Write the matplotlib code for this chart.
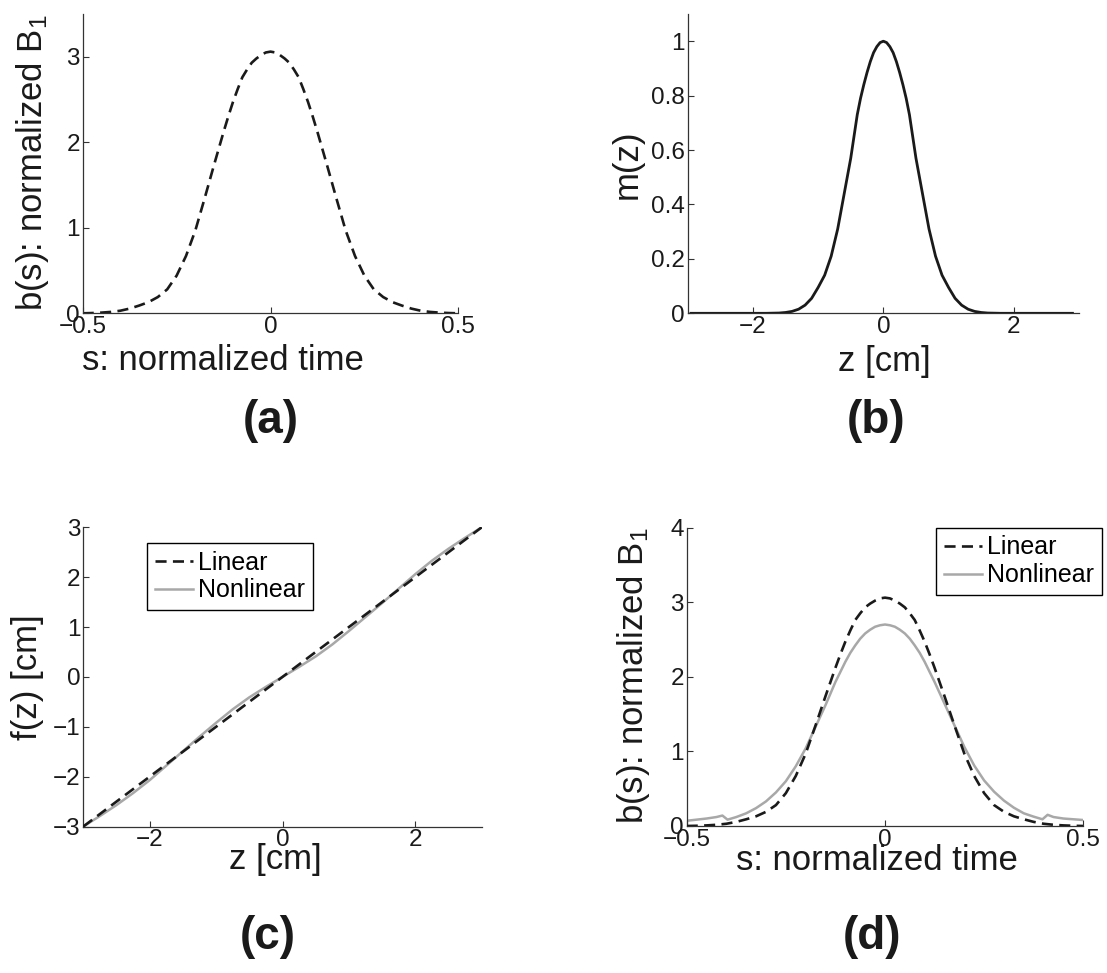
import numpy as np
import matplotlib as mpl
mpl.use('Agg')
import matplotlib.pyplot as plt

plt.rcParams['font.family'] = ['Liberation Sans', 'DejaVu Sans']
plt.rcParams['mathtext.fontset'] = 'custom'
plt.rcParams['mathtext.rm'] = 'Liberation Sans'
plt.rcParams['mathtext.it'] = 'Liberation Sans:italic'

W, H = 1107, 973

# (a) / (d): linear-design pulse b(s)
s_lin = [-0.5, -0.475, -0.45, -0.425, -0.4, -0.375, -0.35, -0.325, -0.3,
         -0.275, -0.25, -0.225, -0.2, -0.175, -0.15, -0.1375, -0.125,
         -0.1125, -0.1, -0.0875, -0.075, -0.0625, -0.05, -0.0375, -0.025,
         -0.0125, 0.0, 0.0125, 0.025, 0.0375, 0.05, 0.0625, 0.075, 0.0875,
         0.1, 0.1125, 0.125, 0.1375, 0.15, 0.175, 0.2, 0.225, 0.25, 0.275,
         0.3, 0.325, 0.35, 0.375, 0.4, 0.425, 0.45, 0.475, 0.5]
b_lin = [0.0, 0.003, 0.008, 0.016, 0.03, 0.055, 0.09, 0.13, 0.19, 0.28,
         0.44, 0.67, 0.97, 1.35, 1.74, 1.93, 2.12, 2.30, 2.47, 2.62, 2.76,
         2.85, 2.93, 2.98, 3.02, 3.05, 3.06, 3.05, 3.02, 2.98, 2.93, 2.85,
         2.76, 2.62, 2.47, 2.30, 2.12, 1.93, 1.74, 1.35, 0.97, 0.67, 0.44,
         0.28, 0.19, 0.13, 0.09, 0.055, 0.03, 0.016, 0.008, 0.003, 0.0]

# (d): nonlinear-design pulse
s_nl = [-0.5, -0.475, -0.45, -0.425, -0.41, -0.397, -0.375, -0.35, -0.325,
        -0.3, -0.275, -0.25, -0.225, -0.2, -0.175, -0.15, -0.125, -0.1,
        -0.0875, -0.075, -0.0625, -0.05, -0.0375, -0.025, -0.0125, 0.0,
        0.0125, 0.025, 0.0375, 0.05, 0.0625, 0.075, 0.0875, 0.1, 0.125,
        0.15, 0.175, 0.2, 0.225, 0.25, 0.275, 0.3, 0.325, 0.35, 0.375,
        0.397, 0.41, 0.425, 0.45, 0.475, 0.5]
b_nl = [0.07, 0.085, 0.10, 0.12, 0.14, 0.085, 0.12, 0.17, 0.24, 0.33, 0.45,
        0.60, 0.80, 1.04, 1.33, 1.62, 1.93, 2.20, 2.32, 2.42, 2.51, 2.58,
        2.63, 2.67, 2.69, 2.70, 2.69, 2.67, 2.63, 2.58, 2.51, 2.42, 2.32,
        2.20, 1.93, 1.64, 1.35, 1.06, 0.81, 0.61, 0.46, 0.34, 0.245, 0.17,
        0.125, 0.09, 0.15, 0.12, 0.10, 0.09, 0.08]

# (b): slice profile m(z)
z_m = [-2.95, -2.5, -2.0, -1.8, -1.6, -1.5, -1.4, -1.3, -1.2, -1.1, -1.0,
       -0.9, -0.8, -0.75, -0.7, -0.65, -0.6, -0.55, -0.5, -0.45, -0.4,
       -0.35, -0.3, -0.25, -0.2, -0.15, -0.1, -0.05, 0.0, 0.05, 0.1, 0.15,
       0.2, 0.25, 0.3, 0.35, 0.4, 0.45, 0.5, 0.55, 0.6, 0.65, 0.7, 0.75,
       0.8, 0.9, 1.0, 1.1, 1.2, 1.3, 1.4, 1.5, 1.6, 1.8, 2.0, 2.5, 2.9]
m_z = [0.0, 0.0, 0.0, 0.0, 0.001, 0.003, 0.007, 0.015, 0.03, 0.055, 0.095,
       0.14, 0.21, 0.26, 0.31, 0.375, 0.44, 0.505, 0.57, 0.65, 0.73, 0.79,
       0.84, 0.885, 0.925, 0.958, 0.98, 0.995, 1.0, 0.995, 0.98, 0.958,
       0.925, 0.885, 0.84, 0.79, 0.73, 0.65, 0.57, 0.505, 0.44, 0.375,
       0.31, 0.26, 0.21, 0.14, 0.095, 0.055, 0.03, 0.015, 0.007, 0.003,
       0.001, 0.0, 0.0, 0.0, 0.0]

# (c): gradient mapping f(z)
z_lin = [-3.0, 3.0]
f_lin = [-3.0, 3.0]
z_f = [-3.0, -2.75, -2.5, -2.25, -2.0, -1.75, -1.5, -1.25, -1.0, -0.75,
       -0.5, -0.25, 0.0, 0.25, 0.5, 0.75, 1.0, 1.25, 1.5, 1.75, 2.0, 2.25,
       2.5, 2.75, 3.0]
f_nl = [-3.0, -2.79, -2.57, -2.33, -2.07, -1.78, -1.49, -1.2, -0.92, -0.65,
        -0.41, -0.2, 0.0, 0.2, 0.41, 0.65, 0.92, 1.2, 1.48, 1.77, 2.06,
        2.33, 2.57, 2.79, 3.0]

BLACK = '#1a1a1a'
GRAY = '#a8a8a8'
DASH = (4.2, 2.4)
TICK_FS = 17.5
LABEL_FS = 25
PANEL_FS = 33
LEG_FS = 18


def ax_px(fig, left, top, right, bottom):
    return fig.add_axes([left / W, 1 - bottom / H, (right - left) / W,
                         (bottom - top) / H])


def style(ax):
    for side in ('top', 'right'):
        ax.spines[side].set_visible(False)
    for side in ('left', 'bottom'):
        ax.spines[side].set_linewidth(0.9)
        ax.spines[side].set_color('#333333')
    ax.tick_params(direction='in', length=4, width=0.8, color='#333333',
                   labelsize=TICK_FS, pad=2, labelcolor=BLACK)


def text_px(fig, x, y, s, **kw):
    fig.text(x / W, 1 - y / H, s, ha='center', va='center', color=BLACK, **kw)


def legend(ax, fig, x, y):
    leg = ax.legend(loc='upper left', bbox_to_anchor=(x / W, 1 - y / H),
                    bbox_transform=fig.transFigure, fontsize=LEG_FS,
                    frameon=True, fancybox=False, framealpha=1,
                    edgecolor='black', borderpad=0.3, labelspacing=0.15,
                    handlelength=1.55, handletextpad=0.2, borderaxespad=0)
    leg.get_frame().set_linewidth(1.0)


fig = plt.figure(figsize=(W / 100, H / 100), dpi=100)

# (a)
ax = ax_px(fig, 82.7, 14, 458.3, 313.3)
ax.plot(s_lin, b_lin, '--', dashes=DASH, color=BLACK, lw=1.9)
ax.set_xlim(-0.5, 0.5)
ax.set_ylim(0, 3.5)
ax.set_xticks([-0.5, 0, 0.5])
ax.set_xticklabels(['\u22120.5', '0', '0.5'])
ax.set_yticks([0, 1, 2, 3])
style(ax)
text_px(fig, 223, 360, 's: normalized time', fontsize=LABEL_FS)
text_px(fig, 33, 163, 'b(s): normalized B$_1$', fontsize=LABEL_FS, rotation=90)
text_px(fig, 271, 421, '(a)', fontsize=PANEL_FS, fontweight='bold')

# (b)
ax = ax_px(fig, 687.7, 14, 1079, 313.3)
ax.plot(z_m, m_z, '-', color=BLACK, lw=2.0)
ax.set_xlim(-3, 3)
ax.set_ylim(0, 1.1)
ax.set_xticks([-2, 0, 2])
ax.set_yticks([0, 0.2, 0.4, 0.6, 0.8, 1])
ax.set_yticklabels(['0', '0.2', '0.4', '0.6', '0.8', '1'])
style(ax)
text_px(fig, 884, 362, 'z [cm]', fontsize=LABEL_FS)
text_px(fig, 627, 164, 'm(z)', fontsize=LABEL_FS, rotation=90)
text_px(fig, 876, 421, '(b)', fontsize=PANEL_FS, fontweight='bold')

# (c)
ax = ax_px(fig, 83.3, 527.3, 481.7, 826.5)
ax.plot(z_lin, f_lin, '--', dashes=DASH, color=BLACK, lw=1.9,
        label='Linear', zorder=3)
ax.plot(z_f, f_nl, '-', color=GRAY, lw=1.8, label='Nonlinear', zorder=2)
ax.set_xlim(-3, 3)
ax.set_ylim(-3, 3)
ax.set_xticks([-2, 0, 2])
ax.set_yticks([-3, -2, -1, 0, 1, 2, 3])
style(ax)
legend(ax, fig, 147, 543)
text_px(fig, 275, 859, 'z [cm]', fontsize=LABEL_FS)
text_px(fig, 27, 677, 'f(z) [cm]', fontsize=LABEL_FS, rotation=90)
text_px(fig, 268, 937, '(c)', fontsize=PANEL_FS, fontweight='bold')

# (d)
ax = ax_px(fig, 686.7, 527.5, 1083.3, 826)
ax.plot(s_lin, b_lin, '--', dashes=DASH, color=BLACK, lw=1.9,
        label='Linear', zorder=3)
ax.plot(s_nl, b_nl, '-', color=GRAY, lw=1.8, label='Nonlinear', zorder=2)
ax.set_xlim(-0.5, 0.5)
ax.set_ylim(0, 4)
ax.set_xticks([-0.5, 0, 0.5])
ax.set_xticklabels(['\u22120.5', '0', '0.5'])
ax.set_yticks([0, 1, 2, 3, 4])
style(ax)
legend(ax, fig, 936, 528)
text_px(fig, 877, 860, 's: normalized time', fontsize=LABEL_FS)
text_px(fig, 634, 676, 'b(s): normalized B$_1$', fontsize=LABEL_FS, rotation=90)
text_px(fig, 872, 937, '(d)', fontsize=PANEL_FS, fontweight='bold')

plt.savefig('out.png', dpi=100)
